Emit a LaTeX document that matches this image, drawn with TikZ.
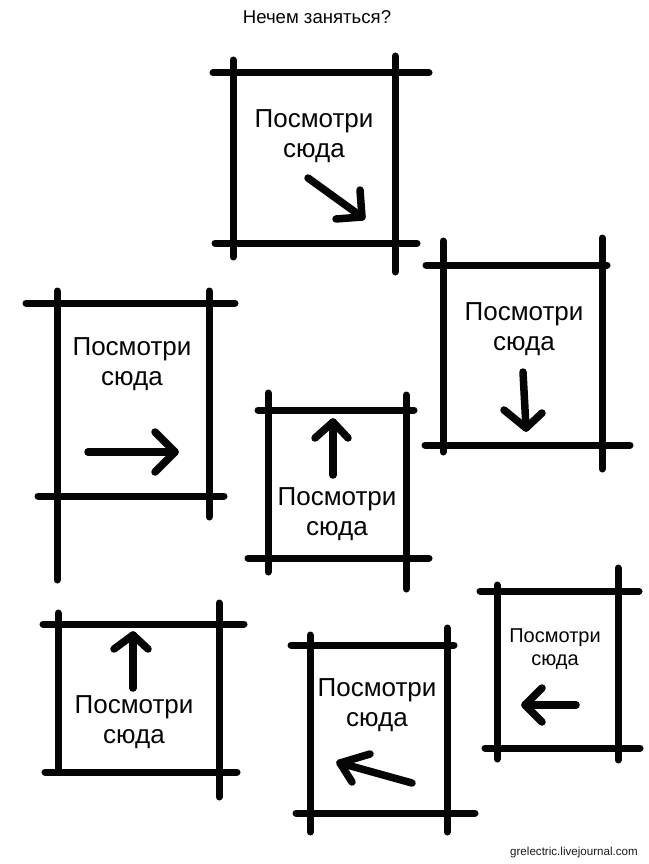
\documentclass[tikz,border=0pt]{standalone}
\usepackage{fontspec}
\setmainfont{Liberation Sans}
\usepackage{tikz}
\usetikzlibrary{calc}
\definecolor{inkblack}{HTML}{050505}
\definecolor{webgrey}{HTML}{1A1A1A}
\tikzset{
  bar/.style={line width=7pt, line cap=round, draw=inkblack, shorten <=3pt, shorten >=3pt},
  pointer/.style={line width=7.5pt, line cap=round, line join=round, draw=inkblack},
  look/.style={align=center, inner sep=0pt, text=inkblack, font=\fontsize{26}{30}\selectfont},
  looksmall/.style={look, font=\fontsize{20}{23}\selectfont},
  lbl/.style={inner sep=0pt, text=inkblack},
}
\begin{document}
\begin{tikzpicture}[x=1pt,y=-1pt]
      \useasboundingbox[fill=white] (0,0) rectangle (648,864);
      \node[lbl, font=\fontsize{18.6}{20}\selectfont] (title) at (317,17) {Нечем заняться?};
      % frames: horizontal bars x1/x2/y, vertical bars x/y1/y2
      \foreach \xa/\xb/\y in {210/432/73, 212/420/243, 423/610/265, 422/633/445,
                              23/238/303, 35/227/496, 255/417/410, 245/432/558,
                              40/247/624, 42/240/772, 288/457/645, 293/478/813,
                              477/642/591, 482/643/748}{
        \draw[bar] (\xa,\y) -- (\xb,\y);
      }
      \foreach \x/\ya/\yb in {233/57/260, 395/53/275, 443/238/455, 602/235/472,
                              57/288/583, 209/288/520, 268/390/575, 406/392/592,
                              58/610/775, 219/600/800, 310/632/835, 447/625/835,
                              497/582/762, 618/565/763}{
        \draw[bar] (\x,\ya) -- (\x,\yb);
      }
      % signs
      \node[look] (t1) at (314,136) {Посмотри\\сюда};
      \node[look] (t2) at (524,329) {Посмотри\\сюда};
      \node[look] (t3) at (132,364) {Посмотри\\сюда};
      \node[look] (t4) at (337,514) {Посмотри\\сюда};
      \node[look] (t5) at (134,722) {Посмотри\\сюда};
      \node[look] (t6) at (377,705) {Посмотри\\сюда};
      \node[looksmall] (t7) at (555,649) {Посмотри\\сюда};
      % arrows: tail, tip, two barbs
      \foreach \n/\ax/\ay/\bx/\by/\cx/\cy/\dx/\dy in {1/308/178/362/217/360/190/336/219,
          2/523/372/526/428/504/410/542/413, 3/88/452/175/452/155/432/155/472,
          4/333/475/333/422/315/438/348/438, 5/133/688/133/635/114/649/148/649,
          6/412/783/340/763/370/754/352/782, 7/576/705/525/705/542/688/542/722}{
        \coordinate (tail\n) at (\ax,\ay);
        \coordinate (tip\n) at (\bx,\by);
        \draw[pointer] (tail\n) -- (tip\n);
        \draw[pointer] (\cx,\cy) -- (tip\n) -- (\dx,\dy);
      }
      \node[lbl, text=webgrey, font=\fontsize{11.6}{13}\selectfont] (site) at (574,852) {grelectric.livejournal.com};
    \end{tikzpicture}
\end{document}
